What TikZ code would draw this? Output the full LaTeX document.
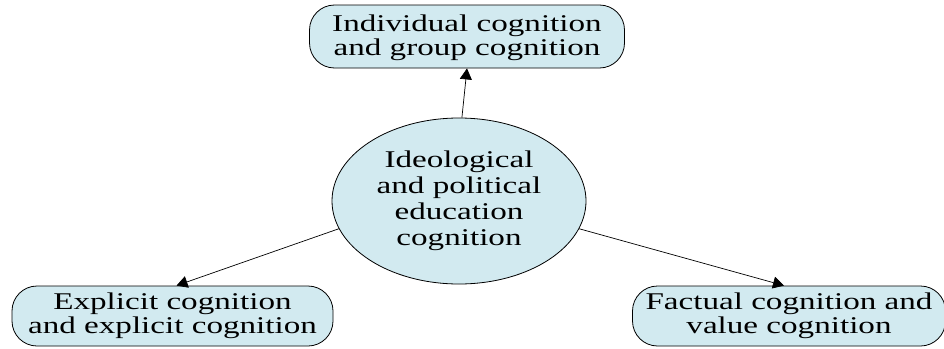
\documentclass[tikz,border=0pt]{standalone}
\usepackage{fontspec}
\setmainfont{Liberation Serif}[FakeStretch=1.38]
\usetikzlibrary{arrows.meta,shapes.geometric}
\definecolor{boxfill}{RGB}{210,234,240}
\begin{document}
\begin{tikzpicture}[x=1pt,y=-1pt,
  every node/.style={font=\fontsize{24}{23.5}\selectfont, align=center, text=black},
  pill/.style={draw=black, line width=0.8pt, fill=boxfill, rounded corners=25pt,
    minimum width=315pt, minimum height=63pt, inner sep=0pt},
  hub/.style={draw=black, line width=0.8pt, fill=boxfill, ellipse,
    minimum width=254pt, minimum height=166pt, inner sep=0pt,
    font=\fontsize{24}{26}\selectfont},
  link/.style={draw=black, line width=0.7pt, -{Triangle[length=11pt,width=12pt]}}]
\useasboundingbox (0,0) rectangle (944,348);

\node[hub] (ell) at (459,201) {Ideological\\and political\\education\\cognition};
\node[pill] (top) at (467,36.5) {\rule{0pt}{19.5pt}Individual cognition\\and group cognition};
\node[pill, minimum width=321pt, minimum height=60pt] (bl) at (172.5,316) {Explicit cognition\\and explicit cognition};
\node[pill, minimum width=313pt, minimum height=60pt] (br) at (789,316) {Factual cognition and\\value cognition};

\draw[link] (ell.88) -- (top.south);
\draw[link] (ell.193) -- ([xshift=4pt]bl.north);
\draw[link] (ell.347) -- ([xshift=-5pt]br.north);
\end{tikzpicture}
\end{document}
